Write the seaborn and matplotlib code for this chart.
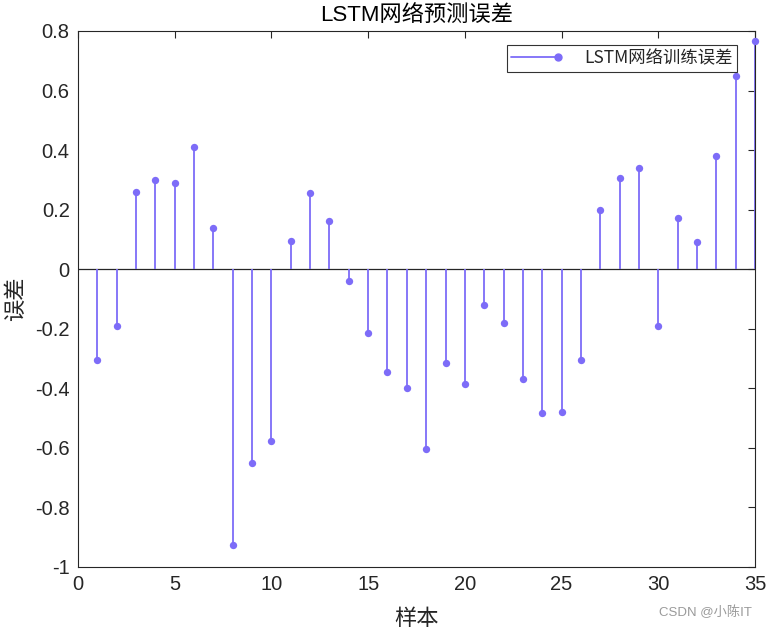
import matplotlib
matplotlib.use("Agg")
import matplotlib.pyplot as plt
import seaborn as sns
import numpy as np
import pandas as pd
from matplotlib.lines import Line2D
from matplotlib.legend_handler import HandlerBase

samples = list(range(1, 36))
errors = [-0.304, -0.19, 0.26, 0.30, 0.29, 0.41, 0.14, -0.925, -0.65, -0.578,
          0.095, 0.257, 0.162, -0.04, -0.213, -0.345, -0.40, -0.605, -0.314, -0.385,
          -0.12, -0.18, -0.37, -0.483, -0.48, -0.304, 0.20, 0.307, 0.34, -0.19,
          0.172, 0.09, 0.38, 0.648, 0.767]
x_ticks = [0, 5, 10, 15, 20, 25, 30, 35]
y_ticks = [-1, -0.8, -0.6, -0.4, -0.2, 0, 0.2, 0.4, 0.6, 0.8]
y_ticklabels = ["-1", "-0.8", "-0.6", "-0.4", "-0.2", "0", "0.2", "0.4", "0.6", "0.8"]

sns.set_style("white")
plt.rcParams['font.family'] = ['Liberation Sans', 'Noto Sans CJK SC', 'DejaVu Sans']

color = "#7D6CF8"
df = pd.DataFrame({"样本": samples, "误差": errors})

fig = plt.figure(figsize=(7.69, 6.30), dpi=100)
ax = fig.add_axes([0.1014, 0.1, 0.8804, 0.8508])

ax.axhline(0, color="#262626", lw=0.9, zorder=1)
ax.vlines(df["样本"], 0, df["误差"], color=color, lw=1.3, zorder=2, clip_on=False)
sns.scatterplot(data=df, x="样本", y="误差", ax=ax, color=color, s=28,
                edgecolor=color, linewidth=0, zorder=3, legend=False, clip_on=False)

ax.set_xlim(0, 35)
ax.set_ylim(-1, 0.8)
ax.set_xticks(x_ticks)
ax.set_yticks(y_ticks)
ax.set_yticklabels(y_ticklabels)
ax.tick_params(direction="in", length=5, width=0.8, labelsize=14.5, colors="#262626",
               top=True, right=True, labelcolor="#262626", pad=6)
for s in ax.spines.values():
    s.set_linewidth(0.8)
    s.set_color("#262626")
    s.set_visible(True)

ax.set_xlabel("样本", fontsize=16, family=['Noto Sans CJK SC'], color="#262626", labelpad=9)
ax.set_ylabel("误差", fontsize=16, family=['Noto Sans CJK SC'], color="#262626", labelpad=6)
ax.set_title("LSTM网络预测误差", fontsize=16, color="black", pad=7)


class StemHandler(HandlerBase):
    def create_artists(self, legend, orig_handle, xdescent, ydescent, width, height,
                       fontsize, trans):
        y = height / 2 - ydescent
        line = Line2D([-xdescent, -xdescent + width], [y, y], color=color, lw=1.3,
                      marker="o", markersize=5, markevery=[1],
                      markerfacecolor=color, markeredgecolor=color, transform=trans)
        return [line]


proxy = Line2D([0], [0], color=color)
leg = ax.legend([proxy], ["LSTM网络训练误差"], loc="upper right",
                bbox_to_anchor=(0.9734, 0.974), handler_map={Line2D: StemHandler()},
                frameon=True, fancybox=False, edgecolor="black",
                prop={'family': ['Noto Sans CJK SC'], 'size': 12.5},
                handlelength=2.7, handletextpad=1.5, borderpad=0.25, borderaxespad=0)
leg.get_frame().set_linewidth(0.8)

fig.text(0.978, 0.018, "CSDN @小陈IT", ha="right", va="bottom", fontsize=9.5,
         color="#9a9a9a", family=['Liberation Sans', 'Noto Sans CJK SC'])

fig.savefig("out.png", dpi=100, facecolor="white")
